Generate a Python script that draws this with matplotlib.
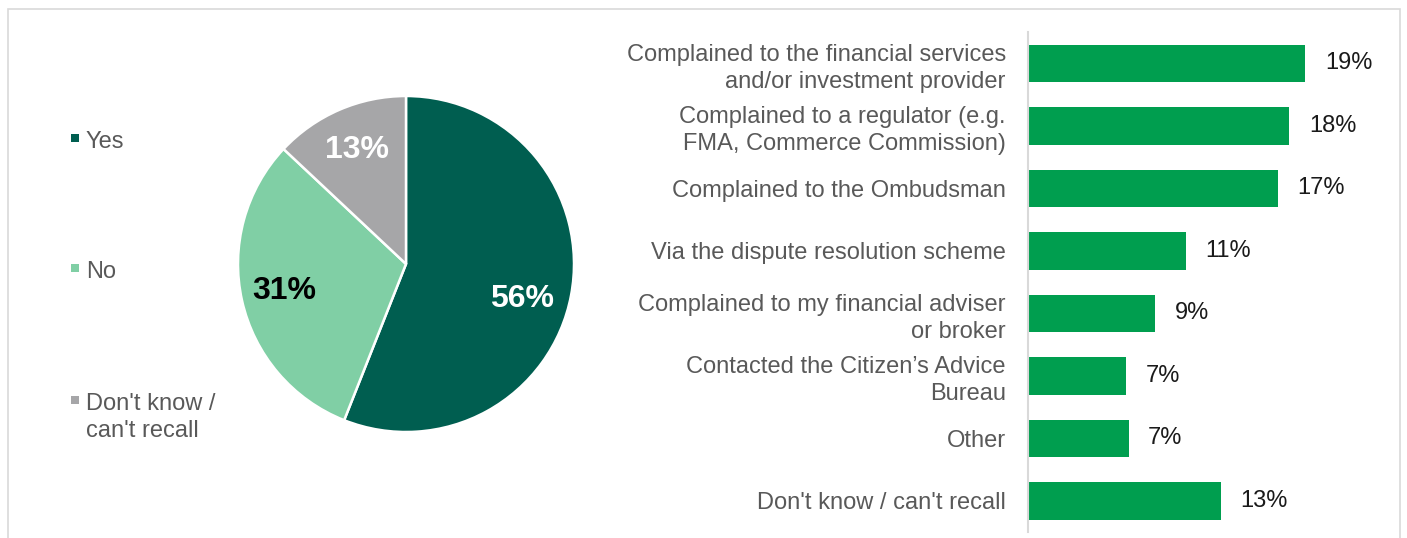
import numpy as np
import matplotlib.pyplot as plt
from matplotlib.patches import Rectangle

plt.rcParams['font.family'] = ['Liberation Sans', 'DejaVu Sans']

# pie data
pie_labels = ["Yes", "No", "Don't know /\ncan't recall"]
pie_values = [56, 31, 13]
pie_colors = ["#005E50", "#80CFA5", "#A6A6A8"]
pie_text_colors = ["white", "black", "white"]

# bar data
bar_labels = [
    "Complained to the financial services\nand/or investment provider",
    "Complained to a regulator (e.g.\nFMA, Commerce Commission)",
    "Complained to the Ombudsman",
    "Via the dispute resolution scheme",
    "Complained to my financial adviser\nor broker",
    "Contacted the Citizen\u2019s Advice\nBureau",
    "Other",
    "Don't know / can't recall",
]
bar_values = [19.0, 17.9, 17.1, 10.8, 8.7, 6.7, 6.9, 13.2]
bar_text = ["19%", "18%", "17%", "11%", "9%", "7%", "7%", "13%"]

W, H = 1407, 538
fig = plt.figure(figsize=(W / 100, H / 100), dpi=100)


def px_axes(x0, y0, x1, y1):
    # pixel box (top-left origin) -> figure fraction
    return fig.add_axes([x0 / W, (H - y1) / H, (x1 - x0) / W, (y1 - y0) / H])


# outer frame
fig.patches.append(Rectangle((8 / W, -0.05), (1400 - 8) / W, (H - 9) / H + 0.05,
                             transform=fig.transFigure, fill=False,
                             edgecolor="#D9D9D9", linewidth=1.2))

# pie
ax_pie = px_axes(238, 96, 574, 432)
wedges, texts, autotexts = ax_pie.pie(
    pie_values, colors=pie_colors, startangle=90, counterclock=False,
    autopct="%d%%", pctdistance=0.74,
    wedgeprops=dict(edgecolor="white", linewidth=1.8),
    textprops=dict(fontsize=23, fontweight="bold"))
for t, c in zip(autotexts, pie_text_colors):
    t.set_color(c)
# big slice label sits a bit lower than the mid angle, like the original
ang = np.deg2rad(-17)
autotexts[0].set_position((0.72 * np.cos(ang), 0.72 * np.sin(ang)))
ax_pie.set_xlim(-1, 1)
ax_pie.set_ylim(-1, 1)
ax_pie.set_aspect("equal")

# legend drawn by hand so entries spread like the original
ax_leg = fig.add_axes([0, 0, 1, 1])
ax_leg.set_xlim(0, W)
ax_leg.set_ylim(H, 0)
ax_leg.axis("off")
leg_y = [141, 271, 403]
for lab, col, y in zip(pie_labels, pie_colors, leg_y):
    ax_leg.scatter([75], [y - 3], marker="s", s=36, color=col, linewidths=0)
    ax_leg.text(86, y - 10, lab, fontsize=17, color="#595959", va="top",
                ha="left", linespacing=1.3)

# bars
ax_bar = px_axes(1028, 32, 1393, 532)
pos = list(range(len(bar_values)))
bars = ax_bar.barh(pos, bar_values, height=0.6, color="#009E4F")
ax_bar.set_ylim(len(bar_values) - 0.5, -0.5)
ax_bar.set_xlim(0, 25)
ax_bar.set_yticks(pos)
ax_bar.set_yticklabels(bar_labels, fontsize=17, color="#595959", linespacing=1.3)
ax_bar.tick_params(axis="y", length=0, pad=16)
ax_bar.set_xticks([])
for s in ["top", "right", "bottom"]:
    ax_bar.spines[s].set_visible(False)
ax_bar.spines["left"].set_color("#D9D9D9")
ax_bar.spines["left"].set_linewidth(1.5)
for b, t in zip(bars, bar_text):
    ax_bar.annotate(t, (b.get_width(), b.get_y() + b.get_height() / 2),
                    xytext=(14, 0), textcoords="offset points",
                    va="center", ha="left", fontsize=17, color="#1A1A1A")

fig.savefig("out.png", dpi=100)
